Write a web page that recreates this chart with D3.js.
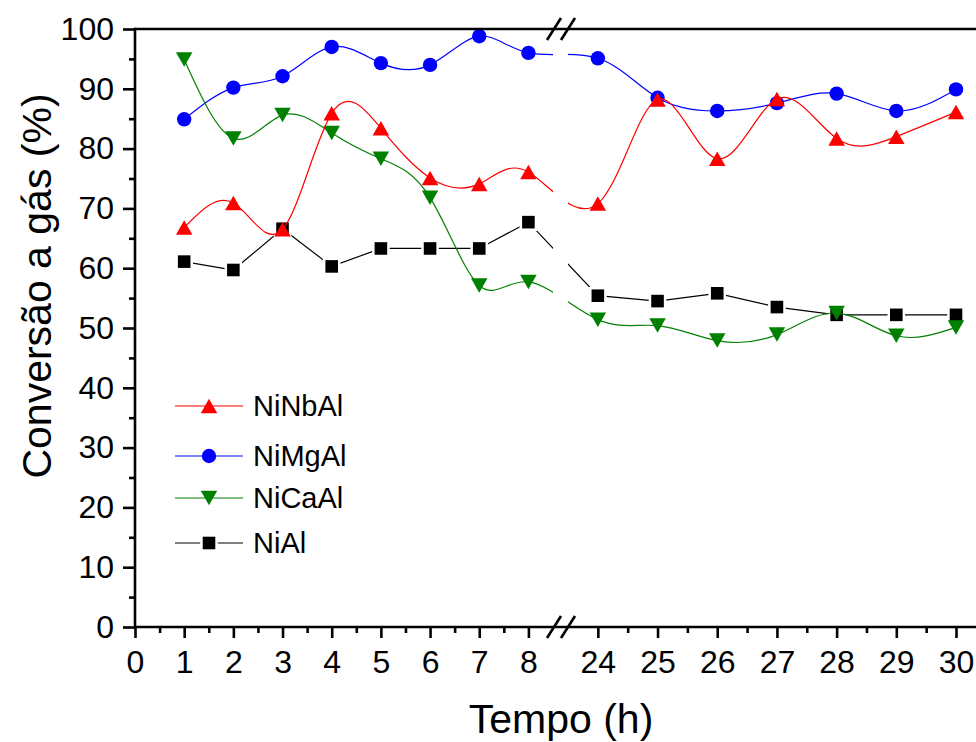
<!DOCTYPE html>
<html>
<head>
<meta charset="utf-8">
<script src="https://cdn.jsdelivr.net/npm/d3@7"></script>
<style>
  html, body { margin: 0; padding: 0; background: #fff; }
  svg { display: block; }
  text { font-family: "Liberation Sans", Arial, sans-serif; fill: #000; }
</style>
</head>
<body>
<svg id="chart" width="976" height="742"></svg>
<script>
// Time on stream (h) and gas conversion (%) for each catalyst
const hours = [1, 2, 3, 4, 5, 6, 7, 8, 24, 25, 26, 27, 28, 29, 30];
const niNbAl = [66.8, 70.9, 66.5, 85.9, 83.4, 75.1, 74.1, 76.1, 70.8, 88.2, 78.3, 88.3, 81.7, 82.0, 86.1];
const niMgAl = [84.9, 90.2, 92.1, 97.0, 94.3, 94.0, 98.8, 96.0, 95.1, 88.5, 86.3, 87.6, 89.2, 86.3, 89.9];
const niCaAl = [94.9, 81.7, 85.6, 82.6, 78.3, 71.8, 57.1, 57.7, 51.4, 50.4, 47.9, 48.9, 52.5, 48.7, 50.1];
const niAl   = [61.1, 59.7, 66.6, 60.3, 63.3, 63.3, 63.3, 67.7, 55.4, 54.5, 55.8, 53.5, 52.2, 52.2, 52.2];

const xTicks = [0, 1, 2, 3, 4, 5, 6, 7, 8, 24, 25, 26, 27, 28, 29, 30];
const xMinorTicks = [0.5, 1.5, 2.5, 3.5, 4.5, 5.5, 6.5, 7.5, 24.5, 25.5, 26.5, 27.5, 28.5, 29.5];
const yTicks = d3.range(0, 101, 10);
const yMinorTicks = d3.range(5, 100, 10);

const svg = d3.select("#chart");

// Broken time axis: 0–8.5 h, then 23.5–30 h
const breakStart = 8.5, breakEnd = 23.5;
const x = d3.scaleLinear()
  .domain([0, breakStart, breakEnd, 30])
  .range([135, 553, 568, 956]);
const y = d3.scaleLinear().domain([0, 100]).range([627, 29]);

const plotLeft = 135, plotRight = 990, plotTop = 29, plotBottom = 627;

// Clip the connecting lines so they leave a gap at the axis break
const defs = svg.append("defs");
const clip = defs.append("clipPath").attr("id", "breakClip");
clip.append("rect").attr("x", plotLeft).attr("y", 0).attr("width", x(breakStart) - plotLeft).attr("height", 742);
clip.append("rect").attr("x", x(breakEnd)).attr("y", 0).attr("width", plotRight - x(breakEnd)).attr("height", 742);

// Marker shapes
function markerPath(type) {
  if (type === "up") {
    const w = 16.5, h = 14.5;
    return `M0,${-h / 2}L${w / 2},${h / 2}L${-w / 2},${h / 2}Z`;
  }
  if (type === "down") {
    const w = 16.5, h = 14.5;
    return `M0,${h / 2}L${w / 2},${-h / 2}L${-w / 2},${-h / 2}Z`;
  }
  if (type === "square") {
    const s = 12.6;
    return `M${-s / 2},${-s / 2}h${s}v${s}h${-s}Z`;
  }
  const r = 7.2;
  return `M${r},0A${r},${r},0,1,1,${-r},0A${r},${r},0,1,1,${r},0Z`;
}

const series = [
  { name: "NiAl",   values: niAl,   color: "#000000", marker: "square", curve: d3.curveLinear,  halo: true },
  { name: "NiMgAl", values: niMgAl, color: "#0000ff", marker: "circle", curve: d3.curveNatural, halo: false },
  { name: "NiCaAl", values: niCaAl, color: "#008000", marker: "down",   curve: d3.curveNatural, halo: false },
  { name: "NiNbAl", values: niNbAl, color: "#ff0000", marker: "up",     curve: d3.curveNatural, halo: false }
];

const plot = svg.append("g");
series.forEach(s => {
  const pts = hours.map((h, i) => [x(h), y(s.values[i])]);
  const g = plot.append("g");
  g.append("path")
    .attr("d", d3.line().curve(s.curve)(pts))
    .attr("fill", "none")
    .attr("stroke", s.color)
    .attr("stroke-width", 1.2)
    .attr("clip-path", "url(#breakClip)");
  g.selectAll("path.mk")
    .data(pts)
    .join("path")
    .attr("class", "mk")
    .attr("transform", d => `translate(${d[0]},${d[1]})`)
    .attr("d", markerPath(s.marker))
    .attr("fill", s.color)
    .attr("stroke", s.halo ? "#fff" : "none")
    .attr("stroke-width", s.halo ? 5 : 0)
    .style("paint-order", "stroke");
});

// Axes
const axisStroke = 2.6;
const yAxis = svg.append("g")
  .attr("transform", `translate(${plotLeft},0)`)
  .call(d3.axisLeft(y).tickValues(yTicks).tickSize(12).tickPadding(9).tickFormat(d3.format("d")));
const yMinor = svg.append("g")
  .attr("transform", `translate(${plotLeft},0)`)
  .call(d3.axisLeft(y).tickValues(yMinorTicks).tickSize(6).tickFormat(""));

const xAxis = svg.append("g")
  .attr("transform", `translate(0,${plotBottom})`)
  .call(d3.axisBottom(x).tickValues(xTicks).tickSize(11).tickPadding(12).tickFormat(d3.format("d")));
const xMinor = svg.append("g")
  .attr("transform", `translate(0,${plotBottom})`)
  .call(d3.axisBottom(x).tickValues(xMinorTicks).tickSize(6).tickFormat(""));

[yAxis, yMinor, xAxis, xMinor].forEach(a => {
  a.select(".domain").remove();
  a.selectAll(".tick line").attr("stroke", "#000").attr("stroke-width", axisStroke);
  a.selectAll(".tick text").style("font-size", "32px").attr("fill", "#000");
});

// Frame: left, bottom and top lines
const frame = svg.append("g").attr("stroke", "#000").attr("stroke-width", axisStroke).attr("fill", "none");
frame.append("line").attr("x1", plotLeft).attr("x2", plotLeft).attr("y1", plotTop - 1.3).attr("y2", plotBottom + 1.3);
frame.append("line").attr("x1", plotLeft).attr("x2", plotRight).attr("y1", plotBottom).attr("y2", plotBottom);
frame.append("line").attr("x1", plotLeft).attr("x2", plotRight).attr("y1", plotTop).attr("y2", plotTop);

// Break marks on top and bottom axes
const breakMarks = svg.append("g").attr("stroke", "#000").attr("stroke-width", 2.6);
[plotTop, plotBottom].forEach(yy => {
  [x(breakStart) + 1, x(breakEnd)].forEach(cx => {
    breakMarks.append("line")
      .attr("x1", cx - 7).attr("y1", yy + 11)
      .attr("x2", cx + 7).attr("y2", yy - 11);
  });
});

// Axis titles
svg.append("text")
  .attr("x", 561).attr("y", 733)
  .attr("text-anchor", "middle")
  .style("font-size", "41px")
  .text("Tempo (h)");
svg.append("text")
  .attr("transform", "translate(51,286) rotate(-90)")
  .attr("text-anchor", "middle")
  .style("font-size", "41px")
  .text("Conversão a gás (%)");

// Legend
const legendRows = [
  { s: series[3], y: 406 },
  { s: series[1], y: 456 },
  { s: series[2], y: 498 },
  { s: series[0], y: 543 }
];
const legend = svg.append("g");
legendRows.forEach(r => {
  const g = legend.append("g");
  g.append("line")
    .attr("x1", 175).attr("x2", 243).attr("y1", r.y).attr("y2", r.y)
    .attr("stroke", r.s.color).attr("stroke-width", 1.2);
  g.append("path")
    .attr("transform", `translate(209,${r.y})`)
    .attr("d", markerPath(r.s.marker))
    .attr("fill", r.s.color)
    .attr("stroke", r.s.halo ? "#fff" : "none")
    .attr("stroke-width", r.s.halo ? 5 : 0)
    .style("paint-order", "stroke");
  g.append("text")
    .attr("x", 253).attr("y", r.y)
    .attr("dy", "0.36em")
    .style("font-size", "29px")
    .text(r.s.name);
});
</script>
</body>
</html>
